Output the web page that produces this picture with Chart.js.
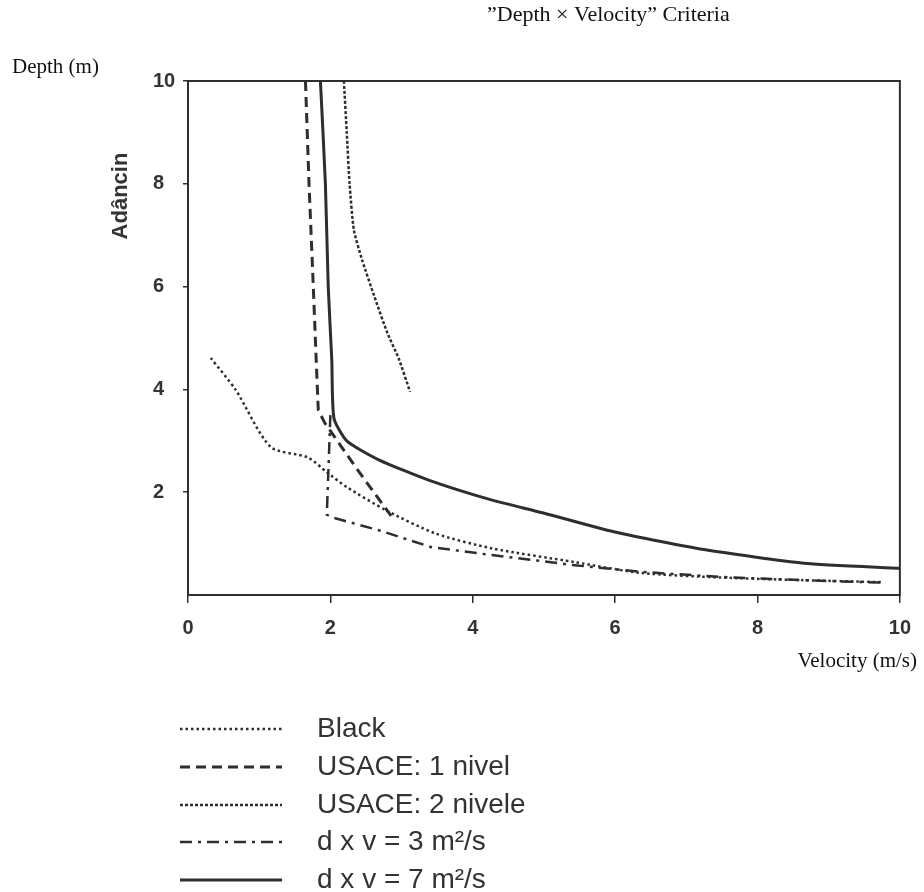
<!DOCTYPE html>
<html>
<head>
<meta charset="utf-8">
<script src="https://cdn.jsdelivr.net/npm/chart.js@4.4.1/dist/chart.umd.min.js"></script>
<style>
  html, body { margin: 0; padding: 0; background: #fff; }
  .wrap { position: relative; width: 924px; height: 892px; }
</style>
</head>
<body>
<div class="wrap"><canvas id="dvChart"></canvas></div>
<script>
  // values
  const xTicks = [0, 2, 4, 6, 8, 10];
  const yTicks = [2, 4, 6, 8, 10];

  const blackX = [0.32, 0.67, 1.16, 1.68, 1.95, 2.23, 2.78, 3.47, 4.26, 5.43, 6.36, 7.5, 8.6, 9.75];
  const blackY = [4.61, 3.99, 2.88, 2.68, 2.39, 2.1, 1.65, 1.2, 0.91, 0.64, 0.43, 0.34, 0.29, 0.25];

  const usace1X = [1.65, 1.70, 1.76, 1.80, 1.83, 1.92, 2.4, 2.9];
  const usace1Y = [10, 8, 6, 4.6, 3.6, 3.35, 2.4, 1.45];

  const usace2X = [2.19, 2.23, 2.27, 2.33, 2.45, 2.62, 2.8, 2.96, 3.12];
  const usace2Y = [10, 9, 8, 7.1, 6.5, 5.8, 5.1, 4.6, 3.95];

  const dv3X = [2.0, 1.95, 2.05, 2.68, 3.42, 4.25, 5.43, 6.36, 7.5, 8.6, 9.75];
  const dv3Y = [3.5, 1.56, 1.5, 1.26, 0.93, 0.78, 0.58, 0.45, 0.35, 0.29, 0.24];

  const dv7X = [1.86, 1.93, 1.97, 2.02, 2.05, 2.23, 2.68, 3.37, 4.26, 4.98, 5.98, 7.27, 8.65, 10];
  const dv7Y = [10, 8, 6, 4.57, 3.44, 3.0, 2.63, 2.24, 1.85, 1.6, 1.23, 0.88, 0.62, 0.52];

  const seriesNames = ['Black', 'USACE: 1 nivel', 'USACE: 2 nivele', 'd x v = 3 m²/s', 'd x v = 7 m²/s'];

  const ink = '#2e2e2e';
  const sans = '"Liberation Sans", Arial, sans-serif';
  const serif = '"Liberation Serif", "Times New Roman", serif';

  function pts(xs, ys) {
    return xs.map((x, i) => ({ x, y: ys[i] }));
  }

  function line(label, xs, ys, dash, width, tension) {
    return {
      label,
      data: pts(xs, ys),
      borderColor: ink,
      borderWidth: width,
      borderDash: dash,
      pointRadius: 0,
      tension,
      fill: false
    };
  }

  const datasets = [
    line(seriesNames[0], blackX, blackY, [2.5, 3], 2.5, 0.25),
    line(seriesNames[1], usace1X, usace1Y, [10, 6], 3, 0),
    line(seriesNames[2], usace2X, usace2Y, [3, 2], 2.5, 0.2),
    line(seriesNames[3], dv3X, dv3Y, [12, 6, 3, 6], 2.5, 0),
    line(seriesNames[4], dv7X, dv7Y, [], 3, 0.2)
  ];

  // frame, extra labels and the hand-made legend under the plot
  const decor = {
    id: 'decor',
    afterDraw(chart) {
      const { ctx, chartArea: a } = chart;
      ctx.save();
      ctx.strokeStyle = ink;
      ctx.lineWidth = 2;
      ctx.setLineDash([]);
      ctx.strokeRect(a.left, a.top, a.right - a.left, a.bottom - a.top);

      ctx.fillStyle = '#111';
      ctx.textBaseline = 'middle';
      ctx.textAlign = 'left';
      ctx.font = '22px ' + serif;
      ctx.fillText('”Depth × Velocity” Criteria', 487, 15);
      ctx.font = '21px ' + serif;
      ctx.fillText('Depth (m)', 12, 67);
      ctx.textAlign = 'right';
      ctx.fillText('Velocity (m/s)', 917, 661);

      ctx.save();
      ctx.translate(121, 196);
      ctx.rotate(-Math.PI / 2);
      ctx.textAlign = 'center';
      ctx.fillStyle = '#333';
      ctx.font = 'bold 22px ' + sans;
      ctx.fillText('Adâncin', 0, 0);
      ctx.restore();

      const rowY = [729, 767, 805, 842, 880];
      chart.data.datasets.forEach((ds, i) => {
        const y = rowY[i];
        ctx.strokeStyle = ink;
        ctx.lineWidth = ds.borderWidth;
        ctx.setLineDash(ds.borderDash);
        ctx.beginPath();
        ctx.moveTo(180, y);
        ctx.lineTo(282, y);
        ctx.stroke();
        ctx.setLineDash([]);
        ctx.fillStyle = '#333';
        ctx.font = '28px ' + sans;
        ctx.textAlign = 'left';
        ctx.fillText(ds.label, 317, y);
      });
      ctx.restore();
    }
  };

  new Chart(document.getElementById('dvChart'), {
    type: 'line',
    data: { datasets },
    plugins: [decor],
    options: {
      responsive: true,
      maintainAspectRatio: false,
      animation: false,
      layout: { padding: { top: 81, right: 9, bottom: 257, left: 153 } },
      plugins: {
        legend: { display: false },
        tooltip: { enabled: false }
      },
      scales: {
        x: {
          type: 'linear',
          min: 0,
          max: 10,
          afterFit: (s) => { s.height = 40; },
          afterBuildTicks: (s) => { s.ticks = xTicks.map(v => ({ value: v })); },
          grid: { drawOnChartArea: false, tickLength: 8, color: ink, lineWidth: 1.5 },
          border: { display: false },
          ticks: { padding: 13, color: '#333', font: { family: sans, size: 20, weight: 'bold' } }
        },
        y: {
          type: 'linear',
          min: 0,
          max: 10,
          afterFit: (s) => { s.width = 35; },
          afterBuildTicks: (s) => { s.ticks = yTicks.map(v => ({ value: v })); },
          grid: { drawOnChartArea: false, tickLength: 5, color: ink, lineWidth: 1.5 },
          border: { display: false },
          ticks: { padding: 4, crossAlign: 'far', color: '#333', font: { family: sans, size: 20, weight: 'bold' } }
        }
      }
    }
  });
</script>
</body>
</html>
